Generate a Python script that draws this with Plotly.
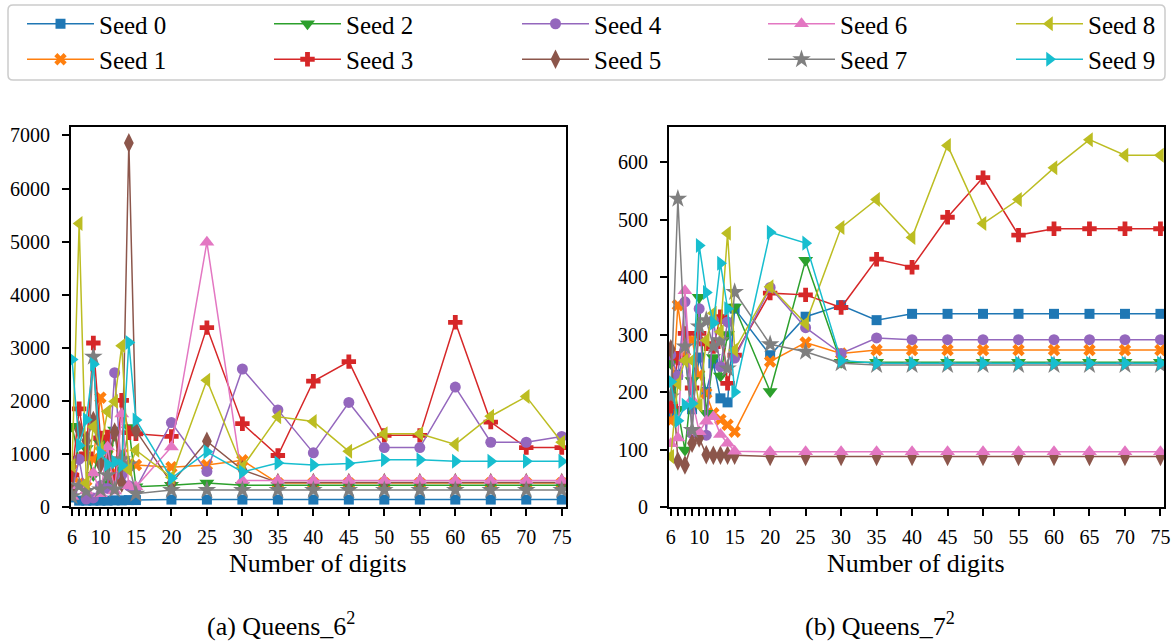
import plotly.graph_objects as go

# Number of digits evaluated for every seed
digits = [6, 7, 8, 9, 10, 11, 12, 13, 14, 15, 20, 25, 30, 35, 40, 45, 50, 55, 60, 65, 70, 75]
digit_labels = ["6", "", "", "", "10", "", "", "", "", "15", "20", "25", "30", "35",
                "40", "45", "50", "55", "60", "65", "70", "75"]

# Queens_6^2 results per seed
q6_seed0 = [180, 120, 120, 120, 120, 120, 125, 125, 130, 130, 140, 140, 140, 140, 140, 140, 140, 140, 140, 140, 140, 140]
q6_seed1 = [700, 450, 380, 900, 2060, 1100, 650, 1000, 800, 790, 750, 790, 880, 450, 450, 450, 450, 450, 450, 450, 450, 450]
q6_seed2 = [1520, 900, 1100, 600, 1200, 440, 1450, 700, 1500, 380, 410, 450, 410, 410, 410, 410, 410, 410, 410, 410, 410, 410]
q6_seed3 = [600, 1850, 1000, 3090, 1300, 1320, 500, 2010, 1400, 1380, 1330, 3380, 1570, 970, 2370, 2740, 1350, 1350, 3480, 1600, 1120, 1120]
q6_seed4 = [300, 900, 150, 170, 400, 350, 2530, 600, 400, 350, 1590, 670, 2600, 1830, 1020, 1970, 1120, 1120, 2260, 1220, 1220, 1330]
q6_seed5 = [300, 1450, 1250, 1630, 800, 900, 1410, 450, 6860, 1440, 450, 1240, 700, 460, 460, 460, 460, 460, 460, 460, 460, 460]
q6_seed6 = [200, 400, 300, 640, 250, 1130, 300, 1750, 400, 380, 1130, 4990, 500, 500, 500, 500, 500, 500, 500, 500, 500, 500]
q6_seed7 = [200, 400, 300, 2830, 330, 600, 330, 900, 800, 250, 320, 320, 320, 320, 320, 320, 320, 320, 320, 320, 320, 320]
q6_seed8 = [780, 5340, 450, 1510, 1100, 1800, 1990, 3040, 700, 1070, 560, 2390, 750, 1700, 1610, 1050, 1380, 1380, 1180, 1710, 2080, 1220]
q6_seed9 = [2780, 1160, 1645, 2690, 1020, 800, 850, 780, 3100, 1640, 540, 1040, 660, 830, 790, 820, 890, 890, 860, 860, 860, 860]

# Queens_7^2 results per seed
q7_seed0 = [160, 230, 260, 170, 260, 200, 250, 189, 182, 345, 264, 331, 351, 325, 336, 336, 336, 336, 336, 336, 336, 336]
q7_seed1 = [150, 351, 260, 291, 230, 198, 163, 152, 143, 131, 253, 286, 267, 273, 273, 273, 273, 273, 273, 273, 273, 273]
q7_seed2 = [250, 170, 99, 220, 365, 163, 260, 228, 300, 348, 201, 429, 252, 252, 252, 252, 252, 252, 252, 252, 252, 252]
q7_seed3 = [175, 259, 302, 207, 302, 284, 279, 331, 215, 264, 372, 369, 347, 431, 417, 504, 573, 473, 484, 484, 484, 484]
q7_seed4 = [265, 228, 357, 128, 345, 125, 325, 244, 322, 259, 382, 312, 267, 294, 291, 291, 291, 291, 291, 291, 291, 291]
q7_seed5 = [275, 80, 73, 111, 120, 91, 90, 90, 90, 90, 88, 88, 88, 88, 88, 88, 88, 88, 88, 88, 88, 88]
q7_seed6 = [110, 120, 376, 187, 131, 149, 157, 126, 111, 97, 96, 96, 96, 96, 96, 96, 96, 96, 96, 96, 96, 96]
q7_seed7 = [192, 536, 279, 134, 314, 325, 279, 290, 241, 374, 283, 270, 250, 247, 247, 247, 247, 247, 247, 247, 247, 247]
q7_seed8 = [88, 215, 255, 255, 177, 290, 337, 305, 476, 273, 383, 319, 486, 535, 469, 629, 493, 535, 590, 639, 612, 612]
q7_seed9 = [218, 150, 177, 180, 455, 373, 320, 424, 345, 200, 478, 459, 255, 250, 250, 250, 250, 250, 250, 250, 250, 250]

seed_names = ["Seed 0", "Seed 1", "Seed 2", "Seed 3", "Seed 4",
              "Seed 5", "Seed 6", "Seed 7", "Seed 8", "Seed 9"]
q6_series = [q6_seed0, q6_seed1, q6_seed2, q6_seed3, q6_seed4,
             q6_seed5, q6_seed6, q6_seed7, q6_seed8, q6_seed9]
q7_series = [q7_seed0, q7_seed1, q7_seed2, q7_seed3, q7_seed4,
             q7_seed5, q7_seed6, q7_seed7, q7_seed8, q7_seed9]

colors = ["#1f77b4", "#ff7f0e", "#2ca02c", "#d62728", "#9467bd",
          "#8c564b", "#e377c2", "#7f7f7f", "#bcbd22", "#17becf"]
symbols = ["square", "x", "triangle-down", "cross", "circle",
           "diamond-tall", "triangle-up", "star", "triangle-left", "triangle-right"]
marker_sizes = [10, 11, 13, 12, 11, 14, 13, 14, 13, 13]

FONT = "Liberation Serif"
W, H = 1173, 642

# one legend per column (two seeds stacked in each)
legend_ids = ["legend", "legend2", "legend3", "legend4", "legend5"]
legend_left_px = [22, 269, 517, 763, 1011]

fig = go.Figure()

for i, name in enumerate(seed_names):
    fig.add_trace(go.Scatter(
        x=digits, y=q6_series[i], xaxis="x", yaxis="y",
        mode="lines+markers",
        line=dict(color=colors[i], width=1.5),
        marker=dict(symbol=symbols[i], size=marker_sizes[i], color=colors[i]),
        name=name, legendgroup=name, showlegend=True,
        legend=legend_ids[i // 2],
    ))

for i, name in enumerate(seed_names):
    fig.add_trace(go.Scatter(
        x=digits, y=q7_series[i], xaxis="x2", yaxis="y2",
        mode="lines+markers",
        line=dict(color=colors[i], width=1.5),
        marker=dict(symbol=symbols[i], size=marker_sizes[i], color=colors[i]),
        name=name, legendgroup=name, showlegend=False,
    ))

axis_style = dict(
    showline=True, mirror=True, linecolor="black", linewidth=2,
    ticks="outside", ticklen=7, tickwidth=1.5, tickcolor="black",
    showgrid=False, zeroline=False, automargin=False,
    tickfont=dict(family=FONT, size=20, color="black"),
)

legend_style = dict(
    orientation="v", xanchor="left", yanchor="top", y=1 - 1 / H,
    bgcolor="rgba(0,0,0,0)", borderwidth=0, itemwidth=67,
    traceorder="normal", tracegroupgap=0,
    font=dict(family=FONT, size=25, color="black"),
)
legends = {lid: dict(x=px / W, **legend_style) for lid, px in zip(legend_ids, legend_left_px)}

# rounded frame around the legend block
x0, x1, y0, y1, r = 8 / W, 1165 / W, 1 - 80 / H, 1 - 5 / H, 5
rx, ry = r / W, r / H
frame_path = (
    f"M {x0 + rx},{y1} L {x1 - rx},{y1} Q {x1},{y1} {x1},{y1 - ry} "
    f"L {x1},{y0 + ry} Q {x1},{y0} {x1 - rx},{y0} "
    f"L {x0 + rx},{y0} Q {x0},{y0} {x0},{y0 + ry} "
    f"L {x0},{y1 - ry} Q {x0},{y1} {x0 + rx},{y1} Z"
)

label_font = dict(family=FONT, size=26, color="black")

fig.update_layout(
    width=W, height=H,
    margin=dict(l=0, r=0, t=0, b=0, autoexpand=False),
    paper_bgcolor="white", plot_bgcolor="white",
    font=dict(family=FONT, color="black"),
    xaxis=dict(domain=[71 / W, 566 / W], range=[5.85, 75.6], anchor="y",
               tickvals=digits, ticktext=digit_labels, ticklabelstandoff=4, **axis_style),
    yaxis=dict(domain=[(H - 507) / H, (H - 127) / H], range=[0, 7160], anchor="x",
               tick0=0, dtick=1000, ticklabelstandoff=8, **axis_style),
    xaxis2=dict(domain=[669 / W, 1164 / W], range=[5.75, 75.5], anchor="y2",
                tickvals=digits, ticktext=digit_labels, ticklabelstandoff=4, **axis_style),
    yaxis2=dict(domain=[(H - 507) / H, (H - 127) / H], range=[0, 661], anchor="x2",
                tick0=0, dtick=100, ticklabelstandoff=8, **axis_style),
    shapes=[dict(type="path", xref="paper", yref="paper", path=frame_path,
                 line=dict(color="#cccccc", width=1.5), fillcolor="white", layer="below")],
    annotations=[
        dict(text="Number of digits", x=318 / W, y=(H - 563) / H, xref="paper", yref="paper",
             xanchor="center", yanchor="middle", showarrow=False, font=label_font),
        dict(text="Number of digits", x=916 / W, y=(H - 563) / H, xref="paper", yref="paper",
             xanchor="center", yanchor="middle", showarrow=False, font=label_font),
        dict(text="(a) Queens_6<sup>2</sup>", x=281 / W, y=(H - 624) / H, xref="paper", yref="paper",
             xanchor="center", yanchor="middle", showarrow=False, font=label_font),
        dict(text="(b) Queens_7<sup>2</sup>", x=880 / W, y=(H - 624) / H, xref="paper", yref="paper",
             xanchor="center", yanchor="middle", showarrow=False, font=label_font),
    ],
    **legends,
)

fig.write_html("out.html")
